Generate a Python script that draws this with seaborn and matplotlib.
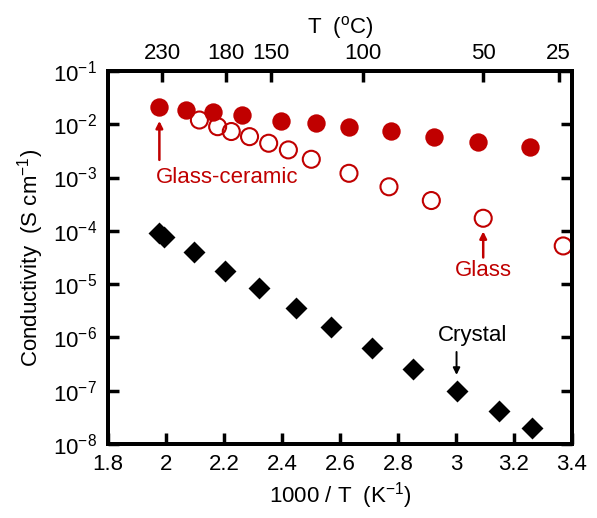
import matplotlib
matplotlib.use("Agg")
import matplotlib.pyplot as plt
import seaborn as sns

# Data (x = 1000/T in K^-1, y = conductivity in S/cm)
gc_x = [1.977, 2.069, 2.161, 2.261, 2.397, 2.518, 2.631, 2.777, 2.924, 3.076, 3.255]
gc_y = [2.14e-2, 1.85e-2, 1.68e-2, 1.49e-2, 1.15e-2, 1.04e-2, 9.0e-3, 7.5e-3, 5.7e-3, 4.6e-3, 3.8e-3]

glass_x = [2.115, 2.178, 2.225, 2.288, 2.354, 2.422, 2.501, 2.631, 2.769, 2.915, 3.094, 3.370]
glass_y = [1.2e-2, 9.0e-3, 7.3e-3, 5.85e-3, 4.4e-3, 3.3e-3, 2.2e-3, 1.2e-3, 6.7e-4, 3.7e-4, 1.72e-4, 5.2e-5]

cryst_x = [1.977, 1.994, 2.095, 2.205, 2.319, 2.447, 2.570, 2.712, 2.852, 3.002, 3.148, 3.261]
cryst_y = [9.0e-5, 7.8e-5, 3.96e-5, 1.79e-5, 8.4e-6, 3.5e-6, 1.55e-6, 6.3e-7, 2.56e-7, 1.0e-7, 4.07e-8, 1.98e-8]

top_celsius = [230, 180, 150, 100, 50, 25]
x_ticks = [1.8, 2.0, 2.2, 2.4, 2.6, 2.8, 3.0, 3.2, 3.4]
x_ticklabels = ["1.8", "2", "2.2", "2.4", "2.6", "2.8", "3", "3.2", "3.4"]

RED = "#C00000"
FS = 16

sns.set_style("ticks")
FONT = ["Liberation Sans Narrow", "Liberation Sans", "DejaVu Sans"]
plt.rcParams["font.family"] = FONT
plt.rcParams["mathtext.fontset"] = "custom"
plt.rcParams["mathtext.rm"] = FONT[0]
plt.rcParams["mathtext.it"] = FONT[0]
plt.rcParams["mathtext.default"] = "regular"
plt.rcParams["text.color"] = "black"
plt.rcParams["axes.labelcolor"] = "black"
plt.rcParams["xtick.color"] = "black"
plt.rcParams["ytick.color"] = "black"
plt.rcParams["axes.edgecolor"] = "black"

fig = plt.figure(figsize=(5.97, 5.18), dpi=100)
ax = fig.add_axes([0.181, 0.143, 0.777, 0.72])

sns.scatterplot(x=gc_x, y=gc_y, ax=ax, color=RED, s=175, marker="o",
                edgecolor=RED, linewidth=0, zorder=3)
sns.scatterplot(x=glass_x, y=glass_y, ax=ax, s=150, marker="o",
                facecolor="none", edgecolor=RED, linewidth=1.5, zorder=3)
sns.scatterplot(x=cryst_x, y=cryst_y, ax=ax, color="black", s=125, marker="D",
                edgecolor="black", linewidth=0, zorder=3)

ax.set_yscale("log")
ax.set_xlim(1.8, 3.4)
ax.set_ylim(1e-8, 1e-1)
ax.set_xticks(x_ticks)
ax.set_xticklabels(x_ticklabels)
ax.set_yticks([10.0 ** k for k in range(-8, 0)])
ax.yaxis.set_minor_locator(matplotlib.ticker.NullLocator())

for side in ["left", "right", "top", "bottom"]:
    ax.spines[side].set_linewidth(2.8)
    ax.spines[side].set_visible(True)
ax.tick_params(axis="both", which="major", direction="in", length=8, width=2.5,
               labelsize=FS)
ax.tick_params(axis="x", pad=7, top=False)
ax.tick_params(axis="y", pad=8, right=True, left=True)

ax.set_xlabel("1000 / T  (K$^{-1}$)", fontsize=FS, labelpad=4)
ax.set_ylabel("Conductivity  (S cm$^{-1}$)", fontsize=FS, labelpad=5)

# top axis in Celsius
ax2 = ax.twiny()
ax2.set_xlim(ax.get_xlim())
ax2.set_xticks([1000.0 / (t + 273.15) for t in top_celsius])
ax2.set_xticklabels([str(t) for t in top_celsius])
ax2.tick_params(axis="x", direction="in", length=8, width=2.5, labelsize=FS, pad=5)
ax2.set_xlabel("T  ($^{o}$C)", fontsize=FS, labelpad=7)
for side in ["left", "right", "top", "bottom"]:
    ax2.spines[side].set_linewidth(2.8)

# annotations
arrow = dict(arrowstyle="-|>", color=RED, lw=1.8, mutation_scale=10)
ax.annotate("", xy=(1.977, 1.3e-2), xytext=(1.977, 1.9e-3), arrowprops=arrow)
ax.text(2.21, 1.0e-3, "Glass-ceramic", color=RED, fontsize=FS, ha="center", va="center")
ax.annotate("", xy=(3.094, 1.1e-4), xytext=(3.094, 2.8e-5), arrowprops=arrow)
ax.text(3.094, 1.8e-5, "Glass", color=RED, fontsize=FS, ha="center", va="center")
ax.annotate("", xy=(3.002, 1.75e-7), xytext=(3.002, 6.0e-7),
            arrowprops=dict(arrowstyle="-|>", color="black", lw=1.4, mutation_scale=10))
ax.text(3.058, 1.07e-6, "Crystal", color="black", fontsize=FS, ha="center", va="center")

fig.savefig("out.png", dpi=100)
